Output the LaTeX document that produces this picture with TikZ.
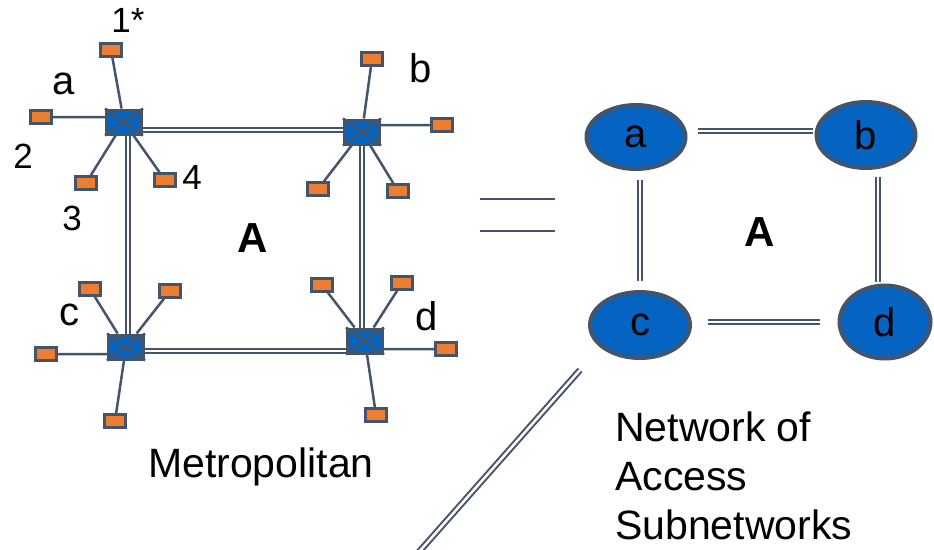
\documentclass[tikz,border=0pt]{standalone}
\usepackage{fontspec}
\setmainfont{Liberation Sans}
\usepackage{tikz}
\usetikzlibrary{shapes.geometric}
\definecolor{swblue}{HTML}{0563C1}
\definecolor{hostorange}{HTML}{ED7D31}
\definecolor{edge}{HTML}{44546A}
\tikzset{
	switch/.style={draw=edge,fill=swblue,line width=3pt,minimum width=35pt,minimum height=24pt,inner sep=0pt},
	host/.style={draw=edge,fill=hostorange,line width=2.5pt,minimum width=21pt,minimum height=13pt,inner sep=0pt},
	site/.style={ellipse,draw=edge,fill=swblue,line width=4pt,inner sep=0pt,font=\fontsize{40}{48}\selectfont},
	tag/.style={font=\fontsize{40}{48}\selectfont},
	bigtag/.style={font=\fontsize{41}{49}\selectfont},
	num/.style={font=\fontsize{35}{42}\selectfont},
	link/.style={draw=edge,line width=2.5pt},
	trunk/.style={draw=edge,line width=2pt,double=white,double distance=2.5pt}
}

\begin{document}
\begin{tikzpicture}[x=1pt,y=-1pt]
	
	\useasboundingbox (0,0) rectangle (934,549);
	
	% metropolitan switches
	\node[switch] (a) at (124,122) {};
	\node[switch] (b) at (362,132) {};
	\node[switch] (c) at (126,347) {};
	\node[switch] (d) at (365,341) {};
	\foreach \s in {a,b,c,d}
		\draw[link] (\s.north west) -- (\s.south east) (\s.north east) -- (\s.south west);
	
	\node[host] (a1) at (111,50) {};
	\node[host] (a2) at (41,117) {};
	\node[host] (a3) at (86,183) {};
	\node[host] (a4) at (165,180) {};
	\node[host] (b1) at (372,59) {};
	\node[host] (b2) at (442,125) {};
	\node[host] (b3) at (318,189) {};
	\node[host] (b4) at (398,191) {};
	\node[host] (c1) at (90,289) {};
	\node[host] (c2) at (170,291) {};
	\node[host] (c3) at (46,354) {};
	\node[host] (c4) at (115,421) {};
	\node[host] (d1) at (322,285) {};
	\node[host] (d2) at (402,283) {};
	\node[host] (d3) at (446,349) {};
	\node[host] (d4) at (376,415) {};
	
	\draw[link] (a1) -- (a) (a2) -- (a2 -| a.west) (a3) -- (a) (a4) -- (a);
	\draw[link] (b1) -- (b) (b2) -- (b2 -| b.east) (b3) -- (b) (b4) -- (b);
	\draw[link] (c1) -- (c) (c2) -- (c) (c3) -- (c3 -| c.west) (c4) -- (c);
	\draw[link] (d1) -- (d) (d2) -- (d) (d3) -- (d3 -| d.east) (d4) -- (d);
	
	\draw[trunk] ([yshift=-8pt]a.east) -- ([yshift=-8pt]a.east -| b.west);
	\draw[trunk] ([xshift=4pt]a.south) -- ([xshift=4pt]a.south |- c.north);
	\draw[trunk] (b.south) -- (b.south |- d.north);
	\draw[trunk] ([yshift=-4pt]c.east) -- ([yshift=-4pt]c.east -| d.west);
	
	\node[num] (l1) at (128,20) {1*};
	\node[num] (l2) at (23,156) {2};
	\node[num] (l3) at (72,218) {3};
	\node[num] (l4) at (192,177) {4};
	\node[tag] (la) at (64,84) {a};
	\node[tag] (lb) at (421,68) {b};
	\node[tag] (lc) at (69,315) {c};
	\node[tag] (ld) at (427,316) {d};
	\node[tag,font=\fontsize{42}{50}\selectfont\bfseries] (metroA) at (253,238) {A};
	\node[bigtag,anchor=base] (metro) at (261,477) {Metropolitan};
	
	% equals sign
	\coordinate (e1) at (480,199);
	\coordinate (e2) at (555,199);
	\coordinate (e3) at (480,231);
	\coordinate (e4) at (555,231);
	\draw[link] (e1) -- (e2) (e3) -- (e4);
	
	% network of access subnetworks
	\node[site,minimum width=99pt,minimum height=64pt] (ra) at (636,137) {a};
	\node[site,minimum width=99pt,minimum height=66pt] (rb) at (866,135) {b};
	\node[site,minimum width=100pt,minimum height=66pt] (rc) at (640,325) {c};
	\node[site,minimum width=91pt,minimum height=73pt] (rd) at (885,322) {d};
	
	\draw[trunk,shorten <=10pt,shorten >=2pt] ([yshift=6pt]ra.east) -- ([yshift=6pt]ra.east -| rb.west);
	\draw[trunk,shorten <=9pt,shorten >=9pt] (ra.south -| rc) -- (rc.north);
	\draw[trunk,shorten <=7pt,shorten >=2pt] ([xshift=12pt]rb.south) -- ([xshift=12pt]rb.south |- rd.north);
	\draw[trunk,shorten <=16pt,shorten >=18pt] (rc.east |- rd) -- (rd.west);
	\node[tag,font=\fontsize{42}{50}\selectfont\bfseries] (accessA) at (760,232) {A};
	
	\node[bigtag,anchor=north west,align=left,inner sep=0pt] (access) at (615,412) {Network of\\Access\\Subnetworks};
	
	\coordinate (s1) at (580,370);
	\coordinate (s2) at (418,553);
	\draw[trunk] (s1) -- (s2);
	
\end{tikzpicture}
\end{document}
